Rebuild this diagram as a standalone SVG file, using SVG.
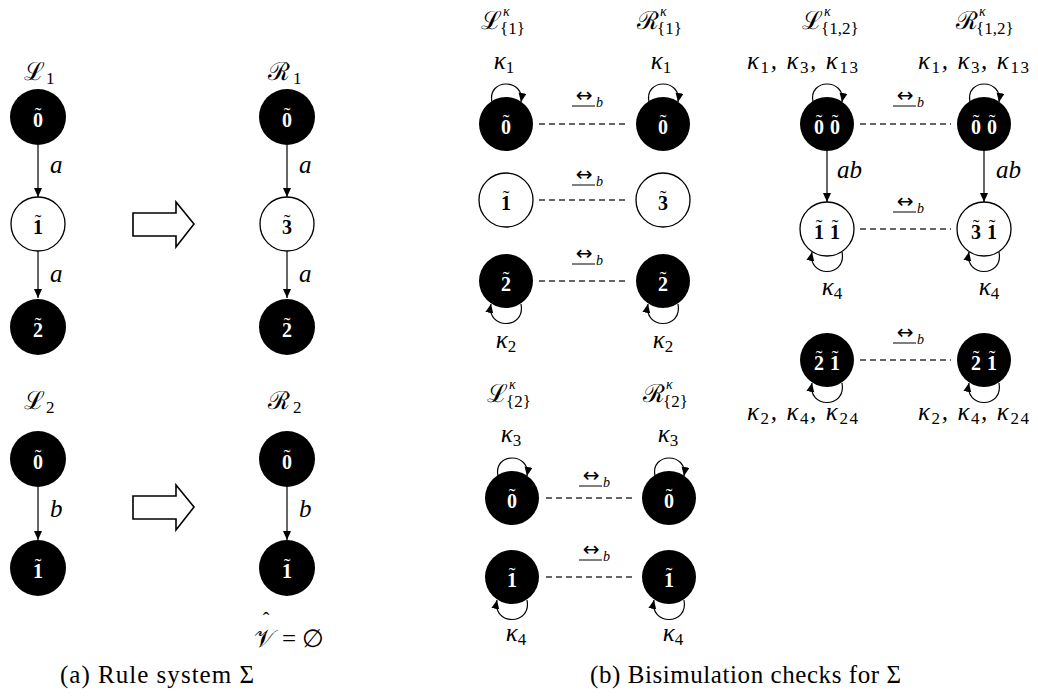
<svg xmlns="http://www.w3.org/2000/svg" xmlns:xlink="http://www.w3.org/1999/xlink" width="1038" height="700" viewBox="0 0 1038 700">
<style>
.nb{fill:#000}
.nw{fill:#fff;stroke:#000;stroke-width:1.3}
.lb{font-family:"Liberation Serif","DejaVu Serif",serif;font-weight:bold;font-size:20px;text-anchor:middle}
.tl{font-family:"Liberation Serif","DejaVu Serif",serif;font-size:20px;text-anchor:middle}
.lw{fill:#fff}
.lk{fill:#000}
.m{font-family:"Liberation Serif","DejaVu Serif",serif;font-style:italic;font-size:25px}
.k{font-family:"Liberation Serif","DejaVu Serif",serif;font-style:italic;font-size:25px}
.sub{font-family:"Liberation Serif","DejaVu Serif",serif;font-style:normal;font-size:17px}
.sup{font-family:"Liberation Serif","DejaVu Serif",serif;font-style:italic;font-size:14px}
.cal{font-family:"DejaVu Serif","Liberation Serif",serif;font-size:25px}
.r{font-family:"Liberation Serif","DejaVu Serif",serif;font-size:25px}
.e{stroke:#000;stroke-width:1.2;fill:none;marker-end:url(#ah)}
.d{stroke:#333;stroke-width:1.3;stroke-dasharray:6 4;fill:none}
.ha{fill:#fff;stroke:#000;stroke-width:1.6}
.mid{text-anchor:middle}
.bs{font-family:"DejaVu Sans",sans-serif;font-size:20px;text-anchor:middle}
.bb{font-family:"Liberation Serif",serif;font-style:italic;font-size:14px}
</style>
<defs>
<marker id="ah" markerUnits="userSpaceOnUse" markerWidth="10" markerHeight="10" refX="9" refY="4" orient="auto">
<path d="M0,0 L9,4 L0,8 z" fill="#000"/>
</marker>
<g id="bis">
<text x="0" y="1" class="bs">↔</text>
<line x1="-12" y1="5" x2="11" y2="5" stroke="#000" stroke-width="1"/>
<text x="12" y="6" class="bb">b</text>
</g>
</defs>

<!-- Panel (a) -->
<g id="label-L1"><text x="24" y="80" class="cal">ℒ</text><text x="46" y="84" class="sub">1</text></g>
<g id="label-R1"><text x="268" y="80" class="cal">ℛ</text><text x="293" y="84" class="sub">1</text></g>
<g id="label-L2"><text x="24" y="409" class="cal">ℒ</text><text x="46" y="413" class="sub">2</text></g>
<g id="label-R2"><text x="268" y="409" class="cal">ℛ</text><text x="293" y="413" class="sub">2</text></g>

<g id="connectors-a">
<line class="e" x1="38" y1="145" x2="38" y2="197"/>
<line class="e" x1="38" y1="251" x2="38" y2="298"/>
<line class="e" x1="287" y1="145" x2="287" y2="197"/>
<line class="e" x1="287" y1="251" x2="287" y2="298"/>
<line class="e" x1="38" y1="487" x2="38" y2="540"/>
<line class="e" x1="287" y1="487" x2="287" y2="540"/>
<text x="50" y="173" class="m">a</text>
<text x="50" y="282" class="m">a</text>
<text x="299" y="173" class="m">a</text>
<text x="299" y="282" class="m">a</text>
<text x="50" y="517" class="m">b</text>
<text x="299" y="517" class="m">b</text>
</g>

<g id="L1-n0"><circle class="nb" cx="38" cy="117" r="28"/><text class="lb lw" x="38" y="127">0</text><text class="tl lw" x="38" y="122">˜</text></g>
<g id="L1-n1"><circle class="nw" cx="38" cy="224" r="27"/><text class="lb lk" x="38" y="234">1</text><text class="tl lk" x="38" y="229">˜</text></g>
<g id="L1-n2"><circle class="nb" cx="38" cy="327" r="28"/><text class="lb lw" x="38" y="337">2</text><text class="tl lw" x="38" y="332">˜</text></g>
<g id="R1-n0"><circle class="nb" cx="287" cy="117" r="28"/><text class="lb lw" x="287" y="127">0</text><text class="tl lw" x="287" y="122">˜</text></g>
<g id="R1-n3"><circle class="nw" cx="287" cy="224" r="27"/><text class="lb lk" x="287" y="234">3</text><text class="tl lk" x="287" y="229">˜</text></g>
<g id="R1-n2"><circle class="nb" cx="287" cy="327" r="28"/><text class="lb lw" x="287" y="337">2</text><text class="tl lw" x="287" y="332">˜</text></g>
<g id="L2-n0"><circle class="nb" cx="38" cy="459" r="28"/><text class="lb lw" x="38" y="469">0</text><text class="tl lw" x="38" y="464">˜</text></g>
<g id="L2-n1"><circle class="nb" cx="38" cy="568" r="28"/><text class="lb lw" x="38" y="578">1</text><text class="tl lw" x="38" y="573">˜</text></g>
<g id="R2-n0"><circle class="nb" cx="287" cy="459" r="28"/><text class="lb lw" x="287" y="469">0</text><text class="tl lw" x="287" y="464">˜</text></g>
<g id="R2-n1"><circle class="nb" cx="287" cy="568" r="28"/><text class="lb lw" x="287" y="578">1</text><text class="tl lw" x="287" y="573">˜</text></g>

<g id="rule-arrow-1"><polygon class="ha" points="133,213 176,213 176,202 194,224 176,247 176,236 133,236"/></g>
<g id="rule-arrow-2"><polygon class="ha" points="133,496 176,496 176,485 194,507 176,530 176,519 133,519"/></g>

<g id="V-hat"><text x="254" y="647" class="cal">𝒱</text><text x="266" y="627" class="tl" font-size="18">ˆ</text><text x="282" y="647" class="r">= ∅</text></g>
<text x="60" y="683" class="r" textLength="194" lengthAdjust="spacing">(a) Rule system Σ</text>

<!-- Panel (b) -->
<g id="label-Lk1"><text x="481" y="29" class="cal">ℒ</text><text x="503" y="16" class="sup">κ</text><text x="500" y="34" class="sub">{1}</text></g>
<g id="label-Rk1"><text x="637" y="29" class="cal">ℛ</text><text x="660" y="16" class="sup">κ</text><text x="657" y="34" class="sub">{1}</text></g>
<g id="label-Lk2"><text x="487" y="402" class="cal">ℒ</text><text x="509" y="389" class="sup">κ</text><text x="506" y="407" class="sub">{2}</text></g>
<g id="label-Rk2"><text x="643" y="402" class="cal">ℛ</text><text x="666" y="389" class="sup">κ</text><text x="663" y="407" class="sub">{2}</text></g>
<g id="label-Lk12"><text x="802" y="29" class="cal">ℒ</text><text x="824" y="16" class="sup">κ</text><text x="821" y="34" class="sub">{1,2}</text></g>
<g id="label-Rk12"><text x="956" y="29" class="cal">ℛ</text><text x="979" y="16" class="sup">κ</text><text x="976" y="34" class="sub">{1,2}</text></g>

<g id="connectors-b">
<line class="d" x1="539" y1="124" x2="625" y2="124"/>
<line class="d" x1="539" y1="200" x2="625" y2="200"/>
<line class="d" x1="539" y1="281" x2="625" y2="281"/>
<line class="d" x1="546" y1="498" x2="632" y2="498"/>
<line class="d" x1="546" y1="577" x2="632" y2="577"/>
<line class="d" x1="860" y1="124" x2="951" y2="124"/>
<line class="d" x1="860" y1="229" x2="951" y2="229"/>
<line class="d" x1="860" y1="360" x2="951" y2="360"/>
<use xlink:href="#bis" x="584" y="101"/>
<use xlink:href="#bis" x="584" y="180"/>
<use xlink:href="#bis" x="584" y="259"/>
<use xlink:href="#bis" x="591" y="481"/>
<use xlink:href="#bis" x="591" y="555"/>
<use xlink:href="#bis" x="905" y="101"/>
<use xlink:href="#bis" x="905" y="207"/>
<use xlink:href="#bis" x="905" y="338"/>
<path class="e" d="M492,102 C487,78 525,78 521,102"/>
<path class="e" d="M649,102 C644,78 682,78 678,102"/>
<path class="e" d="M498,476 C493,452 531,452 527,476"/>
<path class="e" d="M655,476 C650,452 688,452 684,476"/>
<path class="e" d="M813,102 C808,78 846,78 842,102"/>
<path class="e" d="M970,102 C965,78 1003,78 999,102"/>
<path class="e" d="M521,304 C526,330 486,330 491,304"/>
<path class="e" d="M678,304 C683,330 643,330 648,304"/>
<path class="e" d="M527,600 C532,626 492,626 497,600"/>
<path class="e" d="M684,600 C689,626 649,626 654,600"/>
<path class="e" d="M842,252 C847,278 807,278 812,252"/>
<path class="e" d="M999,252 C1004,278 964,278 969,252"/>
<path class="e" d="M842,383 C847,409 807,409 812,383"/>
<path class="e" d="M999,383 C1004,409 964,409 969,383"/>
<line class="e" x1="827" y1="151" x2="827" y2="202"/>
<line class="e" x1="984" y1="151" x2="984" y2="202"/>
<text x="837" y="178" class="m">ab</text>
<text x="996" y="178" class="m">ab</text>
<text x="504" y="69" class="k mid">κ<tspan class="sub" dy="4">1</tspan></text>
<text x="661" y="69" class="k mid">κ<tspan class="sub" dy="4">1</tspan></text>
<text x="506" y="348" class="k mid">κ<tspan class="sub" dy="4">2</tspan></text>
<text x="663" y="348" class="k mid">κ<tspan class="sub" dy="4">2</tspan></text>
<text x="511" y="442" class="k mid">κ<tspan class="sub" dy="4">3</tspan></text>
<text x="668" y="442" class="k mid">κ<tspan class="sub" dy="4">3</tspan></text>
<text x="516" y="641" class="k mid">κ<tspan class="sub" dy="4">4</tspan></text>
<text x="673" y="641" class="k mid">κ<tspan class="sub" dy="4">4</tspan></text>
<text x="832" y="295" class="k mid">κ<tspan class="sub" dy="4">4</tspan></text>
<text x="989" y="295" class="k mid">κ<tspan class="sub" dy="4">4</tspan></text>
<text x="747" y="69" class="k" textLength="111" lengthAdjust="spacing">κ<tspan class="sub" dy="4">1</tspan><tspan dy="-4">, κ</tspan><tspan class="sub" dy="4">3</tspan><tspan dy="-4">, κ</tspan><tspan class="sub" dy="4">13</tspan></text>
<text x="918" y="69" class="k" textLength="111" lengthAdjust="spacing">κ<tspan class="sub" dy="4">1</tspan><tspan dy="-4">, κ</tspan><tspan class="sub" dy="4">3</tspan><tspan dy="-4">, κ</tspan><tspan class="sub" dy="4">13</tspan></text>
<text x="747" y="420" class="k" textLength="111" lengthAdjust="spacing">κ<tspan class="sub" dy="4">2</tspan><tspan dy="-4">, κ</tspan><tspan class="sub" dy="4">4</tspan><tspan dy="-4">, κ</tspan><tspan class="sub" dy="4">24</tspan></text>
<text x="918" y="420" class="k" textLength="111" lengthAdjust="spacing">κ<tspan class="sub" dy="4">2</tspan><tspan dy="-4">, κ</tspan><tspan class="sub" dy="4">4</tspan><tspan dy="-4">, κ</tspan><tspan class="sub" dy="4">24</tspan></text>
</g>

<g id="Lk1-n0"><circle class="nb" cx="506" cy="124" r="27"/><text class="lb lw" x="506" y="134">0</text><text class="tl lw" x="506" y="129">˜</text></g>
<g id="Rk1-n0"><circle class="nb" cx="663" cy="124" r="27"/><text class="lb lw" x="663" y="134">0</text><text class="tl lw" x="663" y="129">˜</text></g>
<g id="Lk1-n1"><circle class="nw" cx="506" cy="200" r="27"/><text class="lb lk" x="506" y="210">1</text><text class="tl lk" x="506" y="205">˜</text></g>
<g id="Rk1-n3"><circle class="nw" cx="663" cy="200" r="27"/><text class="lb lk" x="663" y="210">3</text><text class="tl lk" x="663" y="205">˜</text></g>
<g id="Lk1-n2"><circle class="nb" cx="506" cy="281" r="27"/><text class="lb lw" x="506" y="291">2</text><text class="tl lw" x="506" y="286">˜</text></g>
<g id="Rk1-n2"><circle class="nb" cx="663" cy="281" r="27"/><text class="lb lw" x="663" y="291">2</text><text class="tl lw" x="663" y="286">˜</text></g>
<g id="Lk2-n0"><circle class="nb" cx="512" cy="498" r="27"/><text class="lb lw" x="512" y="508">0</text><text class="tl lw" x="512" y="503">˜</text></g>
<g id="Rk2-n0"><circle class="nb" cx="669" cy="498" r="27"/><text class="lb lw" x="669" y="508">0</text><text class="tl lw" x="669" y="503">˜</text></g>
<g id="Lk2-n1"><circle class="nb" cx="512" cy="577" r="27"/><text class="lb lw" x="512" y="587">1</text><text class="tl lw" x="512" y="582">˜</text></g>
<g id="Rk2-n1"><circle class="nb" cx="669" cy="577" r="27"/><text class="lb lw" x="669" y="587">1</text><text class="tl lw" x="669" y="582">˜</text></g>
<g id="Lk12-n00"><circle class="nb" cx="827" cy="124" r="27"/><text class="lb lw" x="819" y="134">0</text><text class="tl lw" x="819" y="129">˜</text><text class="lb lw" x="835" y="134">0</text><text class="tl lw" x="835" y="129">˜</text></g>
<g id="Rk12-n00"><circle class="nb" cx="984" cy="124" r="27"/><text class="lb lw" x="976" y="134">0</text><text class="tl lw" x="976" y="129">˜</text><text class="lb lw" x="992" y="134">0</text><text class="tl lw" x="992" y="129">˜</text></g>
<g id="Lk12-n11"><circle class="nw" cx="827" cy="229" r="27"/><text class="lb lk" x="819" y="239">1</text><text class="tl lk" x="819" y="234">˜</text><text class="lb lk" x="835" y="239">1</text><text class="tl lk" x="835" y="234">˜</text></g>
<g id="Rk12-n31"><circle class="nw" cx="984" cy="229" r="27"/><text class="lb lk" x="976" y="239">3</text><text class="tl lk" x="976" y="234">˜</text><text class="lb lk" x="992" y="239">1</text><text class="tl lk" x="992" y="234">˜</text></g>
<g id="Lk12-n21"><circle class="nb" cx="827" cy="360" r="27"/><text class="lb lw" x="819" y="370">2</text><text class="tl lw" x="819" y="365">˜</text><text class="lb lw" x="835" y="370">1</text><text class="tl lw" x="835" y="365">˜</text></g>
<g id="Rk12-n21"><circle class="nb" cx="984" cy="360" r="27"/><text class="lb lw" x="976" y="370">2</text><text class="tl lw" x="976" y="365">˜</text><text class="lb lw" x="992" y="370">1</text><text class="tl lw" x="992" y="365">˜</text></g>

<text x="590" y="683" class="r" textLength="311" lengthAdjust="spacing">(b) Bisimulation checks for Σ</text>
</svg>
